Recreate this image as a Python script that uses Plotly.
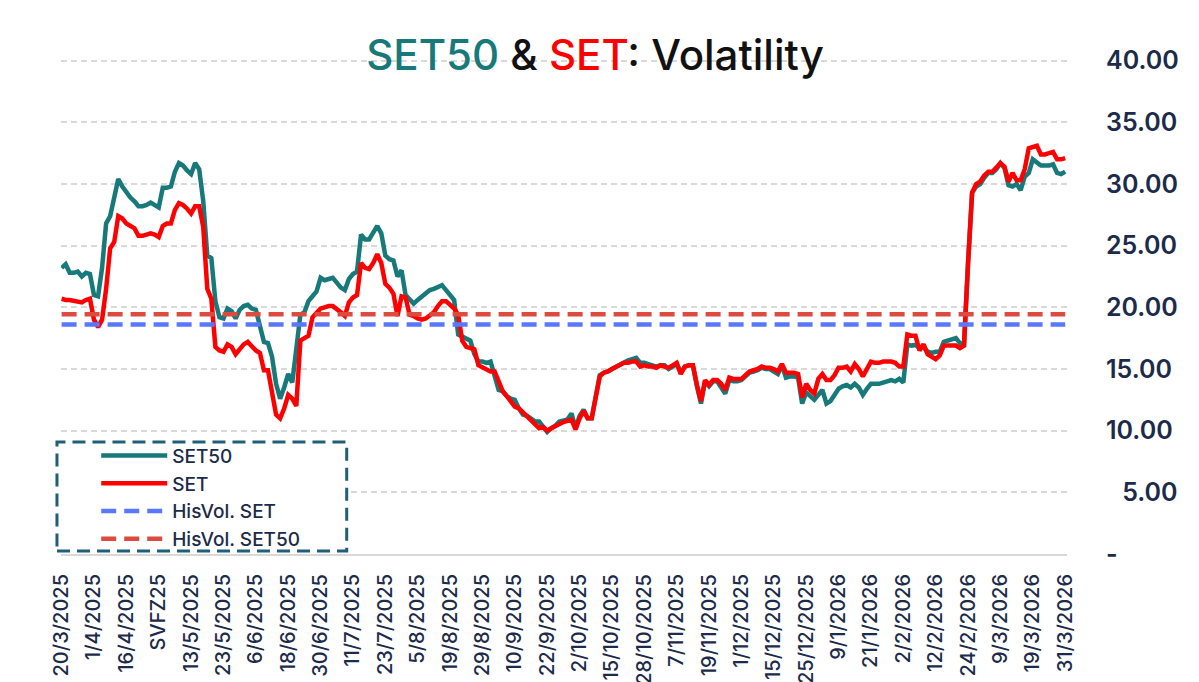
import plotly.graph_objects as go

# ---------------- data ----------------
tick_labels = ["20/3/2025", "1/4/2025", "16/4/2025", "SVFZ25", "13/5/2025", "23/5/2025",
               "6/6/2025", "18/6/2025", "30/6/2025", "11/7/2025", "23/7/2025", "5/8/2025",
               "19/8/2025", "29/8/2025", "10/9/2025", "22/9/2025", "2/10/2025", "15/10/2025",
               "28/10/2025", "7/11/2025", "19/11/2025", "1/12/2025", "15/12/2025", "25/12/2025",
               "9/1/2026", "21/1/2026", "2/2/2026", "12/2/2026", "24/2/2026", "9/3/2026",
               "19/3/2026", "31/3/2026"]
label_every = 8  # one date label every 8 trading days

set50_vol = [
    23.2, 23.5, 22.8, 22.8, 22.9, 22.5, 22.8, 22.7, 21.0, 20.9,
    23.2, 26.8, 27.4, 29.0, 30.4, 29.8, 29.3, 28.9, 28.6, 28.2,
    28.2, 28.3, 28.5, 28.3, 28.1, 29.7, 29.7, 29.8, 31.0, 31.7,
    31.5, 31.1, 30.8, 31.7, 31.2, 28.6, 24.2, 24.0, 20.5, 19.2,
    19.1, 19.9, 19.7, 19.1, 19.8, 20.1, 20.2, 19.9, 19.8, 18.5,
    17.2, 17.1, 16.0, 13.8, 12.6, 13.5, 14.6, 13.9, 17.0, 19.4,
    19.6, 20.5, 20.9, 21.3, 22.4, 22.2, 22.3, 22.4, 22.0, 21.6,
    21.4, 22.3, 22.7, 22.9, 25.9, 25.5, 25.5, 26.0, 26.6, 26.0,
    24.2, 23.9, 23.8, 22.5, 23.0, 21.0, 20.7, 20.3, 20.6, 20.9,
    21.2, 21.4, 21.5, 21.7, 21.8, 21.4, 21.0, 20.6, 17.8, 17.6,
    17.5, 17.3, 16.2, 15.6, 15.6, 15.5, 15.6, 14.5, 13.3, 13.2,
    12.8, 12.6, 12.5, 11.8, 11.3, 11.2, 11.0, 10.75, 10.75, 10.3,
    9.9, 10.2, 10.4, 10.75, 10.8, 10.9, 11.4, 10.2, 11.2, 11.7,
    11.0, 11.0, 12.8, 14.5, 14.7, 14.8, 15.0, 15.2, 15.4, 15.6,
    15.7, 15.8, 15.9, 15.5, 15.5, 15.4, 15.3, 15.2, 15.3, 15.3,
    15.0, 15.2, 15.4, 14.7, 15.2, 15.3, 15.3, 13.6, 12.2, 14.0,
    13.6, 14.0, 14.0, 13.5, 13.0, 14.1, 14.0, 14.0, 14.1, 14.4,
    14.7, 14.8, 14.9, 15.1, 15.0, 15.0, 14.8, 14.6, 15.3, 14.3,
    14.4, 14.4, 14.3, 12.2, 13.1, 12.8, 12.5, 12.9, 13.3, 12.2,
    12.4, 12.9, 13.4, 13.6, 13.7, 13.5, 13.8, 13.5, 12.9, 13.4,
    13.8, 13.8, 13.8, 13.9, 14.0, 14.1, 14.0, 14.2, 13.9, 17.0,
    16.9, 16.95, 16.7, 16.8, 16.4, 16.3, 16.4, 16.4, 17.2, 17.3,
    17.4, 17.5, 17.1, 17.0, 23.6, 29.3, 29.8, 30.0, 30.5, 30.9,
    30.9, 31.2, 31.7, 31.3, 29.9, 29.8, 30.0, 29.5, 30.6, 30.9,
    32.0, 31.8, 31.5, 31.5, 31.5, 31.6, 30.9, 30.8, 31.0,
]

set_vol = [
    20.7, 20.6, 20.6, 20.55, 20.5, 20.4, 20.6, 20.7, 19.0, 18.4,
    19.0, 21.5, 24.8, 25.3, 27.4, 27.2, 26.8, 26.6, 26.4, 25.8,
    25.8, 25.9, 26.0, 25.9, 25.7, 26.6, 26.8, 26.8, 27.9, 28.45,
    28.3, 28.0, 27.6, 28.2, 28.2, 26.5, 21.5, 20.7, 16.8, 16.5,
    16.4, 17.0, 16.8, 16.2, 16.6, 17.0, 17.2, 16.8, 16.5, 16.3,
    14.9, 14.9, 13.0, 11.3, 11.0, 11.8, 12.9, 12.6, 12.0, 17.3,
    17.5, 17.7, 19.2, 19.6, 19.9, 20.0, 20.1, 20.1, 19.9, 19.6,
    19.3, 20.4, 20.8, 21.0, 23.6, 23.2, 23.1, 23.6, 24.3, 23.6,
    21.9, 21.6, 21.1, 19.3, 20.9, 20.8, 19.4, 19.3, 19.1, 19.0,
    19.1, 19.3, 19.6, 20.1, 20.5, 20.5, 20.2, 19.9, 19.4, 17.3,
    16.8, 16.7, 16.6, 15.3, 15.1, 15.0, 14.8, 14.8, 14.0, 13.2,
    12.8, 12.4, 11.95, 11.8, 11.5, 11.2, 10.9, 10.6, 10.2, 10.3,
    10.0, 10.2, 10.4, 10.6, 10.7, 10.8, 10.9, 10.1, 11.0, 11.6,
    11.0, 11.0, 12.8, 14.4, 14.7, 14.8, 15.0, 15.2, 15.3, 15.5,
    15.5, 15.6, 15.6, 15.2, 15.3, 15.2, 15.2, 15.1, 15.3, 15.2,
    15.1, 15.3, 15.5, 14.6, 15.2, 15.3, 15.3, 13.7, 12.4, 14.1,
    13.7, 14.1, 14.1, 13.8, 13.3, 14.3, 14.2, 14.2, 14.2, 14.5,
    14.8, 14.9, 15.0, 15.2, 15.1, 15.1, 15.0, 14.8, 15.4, 14.7,
    14.7, 14.7, 14.6, 12.7, 13.8, 13.3, 13.0, 14.2, 14.6, 14.1,
    14.1, 14.5, 15.1, 15.1, 15.2, 14.8, 15.4, 15.0, 14.4, 15.0,
    15.6, 15.5, 15.5, 15.6, 15.6, 15.6, 15.5, 15.2, 15.2, 17.8,
    17.7, 17.7, 16.5, 17.0, 16.2, 16.0, 15.8, 16.1, 16.9, 16.9,
    16.9, 16.9, 16.7, 16.9, 23.6, 29.3, 30.0, 30.2, 30.7, 31.0,
    31.0, 31.3, 31.7, 31.4, 30.2, 30.9, 30.3, 30.3, 31.2, 32.9,
    33.0, 33.1, 32.4, 32.4, 32.5, 32.6, 32.0, 32.0, 32.1,
]

hisvol_set = 18.6
hisvol_set50 = 19.45

y_tick_values = [0, 5, 10, 15, 20, 25, 30, 35, 40]
y_tick_text = ["-", "\u20075.00", "10.00", "15.00", "20.00", "25.00", "30.00", "35.00", "40.00"]

# ---------------- figure ----------------
days = list(range(len(set50_vol)))
last_day = days[-1]
tick_days = days[::label_every]

TEAL = "#17797a"
RED = "#ff0000"
BLUE = "#5a78ff"
BRICK = "#dc4b3e"
NAVY = "#1c2b4a"
GRID = "#d9d9d9"
FONT = "Inter, Roboto, 'Noto Sans', sans-serif"

W, H = 1191, 674  # page body has an 8px margin

fig = go.Figure()
fig.add_trace(go.Scatter(x=days, y=set50_vol, mode="lines", name="SET50",
                         line=dict(color=TEAL, width=4.5)))
fig.add_trace(go.Scatter(x=days, y=set_vol, mode="lines", name="SET",
                         line=dict(color=RED, width=4.5)))
fig.add_trace(go.Scatter(x=[0, last_day], y=[hisvol_set, hisvol_set], mode="lines",
                         name="HisVol. SET",
                         line=dict(color=BLUE, width=4.5, dash="15px,8px")))
fig.add_trace(go.Scatter(x=[0, last_day], y=[hisvol_set50, hisvol_set50], mode="lines",
                         name="HisVol. SET50",
                         line=dict(color=BRICK, width=4.5, dash="15px,8px")))

fig.update_layout(
    width=W, height=H,
    template="none",
    paper_bgcolor="white", plot_bgcolor="white",
    margin=dict(l=53, r=132, t=49, b=128, autoexpand=False),
    font=dict(family=FONT, color=NAVY),
    title=dict(
        text=("<span style='color:%s'>SET50</span> &amp; "
              "<span style='color:%s'>SET</span>: Volatility") % (TEAL, RED),
        font=dict(family=FONT, size=42, color="#111111", weight=500),
        x=587 / W, xref="container", xanchor="center",
        y=1 - 47 / H, yref="container", yanchor="middle",
    ),
    showlegend=True,
    legend=dict(
        x=0.035, xanchor="left", y=0.236, yanchor="top",
        bgcolor="rgba(0,0,0,0)", borderwidth=0,
        font=dict(family=FONT, size=19, color=NAVY, weight=500),
        itemwidth=66, tracegroupgap=0,
    ),
    shapes=[dict(
        type="rect", xref="paper", yref="paper", layer="above",
        x0=-0.004, x1=0.284, y0=0.006, y1=0.2254,
        line=dict(color="#1f5f7a", width=3, dash="13px,7px"),
        fillcolor="white",
    )],
)

fig.update_xaxes(
    range=[-0.15, last_day + 0.45],
    tickmode="array", tickvals=tick_days, ticktext=tick_labels,
    tickangle=-90, ticks="", showgrid=False, zeroline=False,
    showline=True, linecolor=GRID, linewidth=2,
    tickfont=dict(family=FONT, size=20, color=NAVY, weight=500),
    ticklabelstandoff=10, automargin=False,
)
fig.update_yaxes(
    range=[0, 40.3], side="right",
    tickmode="array", tickvals=y_tick_values, ticktext=y_tick_text,
    showgrid=True, gridcolor=GRID, gridwidth=1.5, griddash="6px,4px",
    zeroline=False, showline=False, ticks="",
    tickfont=dict(family=FONT, size=25, color=NAVY, weight=600),
    ticklabelstandoff=38, automargin=False,
)

fig.write_html("out.html")
